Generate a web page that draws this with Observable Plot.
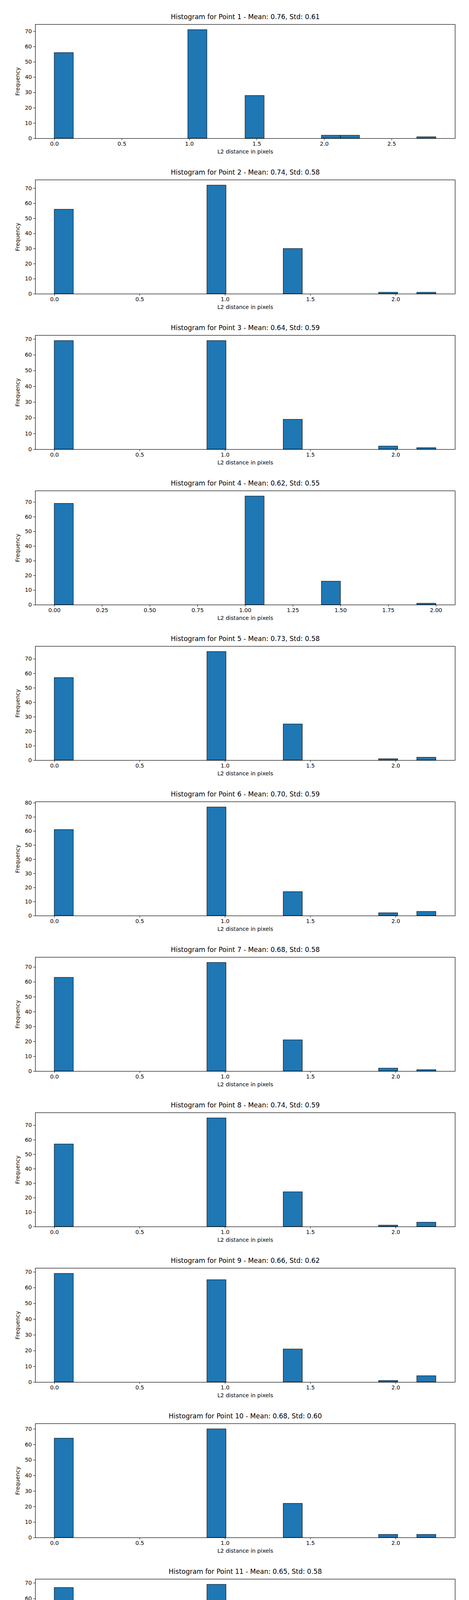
<!DOCTYPE html>
<html>
<head>
<meta charset="utf-8">
<script src="https://cdn.jsdelivr.net/npm/d3@7"></script>
<script src="https://cdn.jsdelivr.net/npm/@observablehq/plot@0.6"></script>
<style>
  body { margin: 0; background: #fff; }
  #charts svg { display: block; font-family: "DejaVu Sans", sans-serif; }
</style>
</head>
<body>
<div id="charts"></div>
<script>
// Histograms of L2 distances, one per keypoint (counts)
const points = d3.range(1, 19)
const means = [0.76, 0.74, 0.64, 0.62, 0.73, 0.70, 0.68, 0.74, 0.66, 0.68, 0.65, 0.66, 0.65, 0.76, 0.68, 0.76, 0.74, 0.72]
const stds  = [0.61, 0.58, 0.59, 0.55, 0.58, 0.59, 0.58, 0.59, 0.62, 0.60, 0.58, 0.58, 0.57, 0.60, 0.57, 0.60, 0.82, 0.59]

// distinct pixel distances and how often each occurs per point
const distances   = [0, 1, Math.SQRT2, 2, Math.sqrt(5), Math.sqrt(8), Math.sqrt(65)]
const countZero   = [56, 56, 69, 69, 57, 61, 63, 57, 69, 64, 67, 65, 66, 55, 62, 54, 60, 59]
const countOne    = [71, 72, 69, 74, 75, 77, 73, 75, 65, 70, 69, 71, 73, 77, 80, 79, 78, 73]
const countSqrt2  = [28, 30, 19, 16, 25, 17, 21, 24, 21, 22, 22, 22, 19, 22, 14, 20, 17, 25]
const countTwo    = [ 2,  1,  2,  1,  1,  2,  2,  1,  1,  2,  0,  1,  2,  1,  3,  3,  2,  0]
const countSqrt5  = [ 2,  1,  1,  0,  2,  3,  1,  3,  4,  2,  2,  1,  0,  5,  1,  4,  2,  3]
const countSqrt8  = [ 1,  0,  0,  0,  0,  0,  0,  0,  0,  0,  0,  0,  0,  0,  0,  0,  0,  0]
const countSqrt65 = [ 0,  0,  0,  0,  0,  0,  0,  0,  0,  0,  0,  0,  0,  0,  0,  0,  1,  0]

const series = [countZero, countOne, countSqrt2, countTwo, countSqrt5, countSqrt8, countSqrt65]

points.forEach((p, i) => {
  const data = distances.map((d, k) => ({d, n: series[k][i]})).filter(r => r.n > 0)
  const max = d3.max(data, r => r.d)
  // 20 equal bins like matplotlib; nudge the last edge so the max value stays in the last bin
  const thresholds = d3.range(21).map(j => max * j / 20)
  thresholds[20] = max * (1 + 1e-9)
  const bins = d3.bin().value(r => r.d).domain([0, thresholds[20]]).thresholds(thresholds.slice(1, -1))(data)
  const topCount = d3.max(bins, b => d3.sum(b, r => r.n))

  let step, fmt
  if (max <= 2.01) { step = 0.25; fmt = d3.format('.2f') }
  else if (max < 3) { step = 0.5; fmt = d3.format('.1f') }
  else { step = 1; fmt = d3.format('d') }
  const xTicks = d3.range(0, max + 1e-9, step)
  const yTicks = d3.range(0, topCount * 1.05, 10)

  const chart = Plot.plot({
    width: 1200,
    height: 398,
    marginTop: 62,
    marginBottom: 44,
    marginLeft: 90,
    marginRight: 36,
    style: {fontSize: '14px', fontFamily: '"DejaVu Sans", sans-serif', color: 'black', overflow: 'visible'},
    x: {domain: [-0.05 * max, 1.05 * max], ticks: xTicks, tickFormat: fmt, tickSize: 5,
        label: 'L2 distance in pixels', labelAnchor: 'center', labelArrow: 'none', labelOffset: 38},
    y: {domain: [0, topCount * 1.05], ticks: yTicks, tickSize: 5,
        label: 'Frequency', labelAnchor: 'center', labelArrow: 'none', labelOffset: 50},
    marks: [
      Plot.rectY(data, Plot.binX({y: 'sum'}, {
        x: 'd', y: 'n', thresholds, domain: [0, thresholds[20]],
        fill: '#1f77b4', stroke: 'black', strokeWidth: 1, inset: 0
      })),
      Plot.frame({stroke: 'black', strokeWidth: 1.2}),
      Plot.text([`Histogram for Point ${p} - Mean: ${means[i].toFixed(2)}, Std: ${stds[i].toFixed(2)}`], {
        frameAnchor: 'top', dy: -14, lineAnchor: 'bottom', fontSize: 17, fill: 'black'
      })
    ]
  })
  d3.select('#charts').append(() => chart)
})
</script>
</body>
</html>
